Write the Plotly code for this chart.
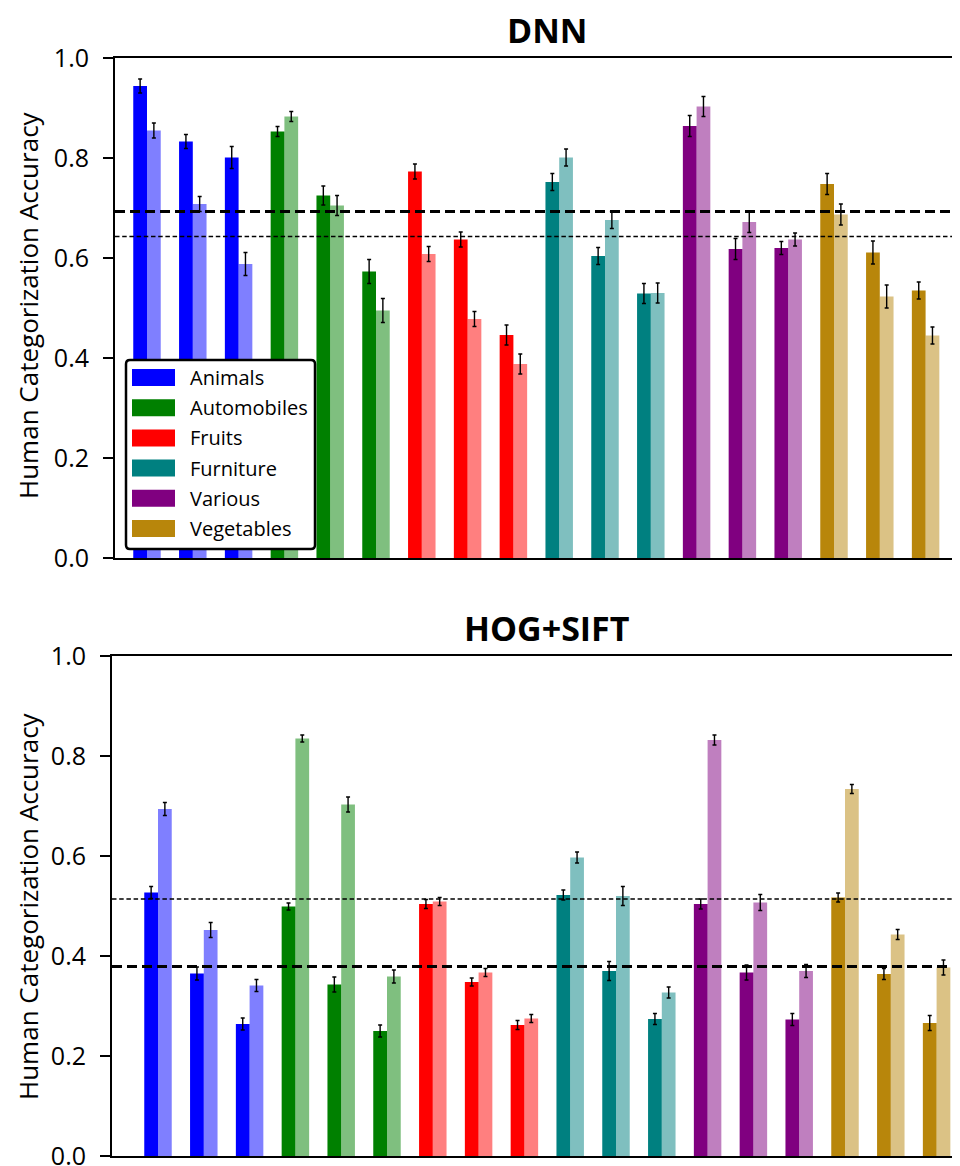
import plotly.graph_objects as go

# ---------------- data ----------------
categories = ["Animals", "Automobiles", "Fruits", "Furniture", "Various", "Vegetables"]
dark_colors = ["#0000FF", "#008000", "#FF0000", "#008080", "#800080", "#B8860B"]
light_colors = ["rgba(0,0,255,0.5)", "rgba(0,128,0,0.5)", "rgba(255,0,0,0.5)",
                "rgba(0,128,128,0.5)", "rgba(128,0,128,0.5)", "rgba(184,134,11,0.5)"]

# DNN panel: 3 levels per category, dark (first) and light (second) bars
dnn_dark = [[0.944, 0.833, 0.801], [0.853, 0.725, 0.573], [0.773, 0.637, 0.446],
            [0.752, 0.604, 0.529], [0.864, 0.618, 0.620], [0.748, 0.611, 0.535]]
dnn_dark_err = [[0.014, 0.014, 0.022], [0.010, 0.019, 0.024], [0.015, 0.015, 0.020],
                [0.017, 0.017, 0.020], [0.021, 0.021, 0.013], [0.021, 0.023, 0.017]]
dnn_light = [[0.855, 0.708, 0.588], [0.883, 0.705, 0.495], [0.608, 0.478, 0.388],
             [0.801, 0.676, 0.530], [0.903, 0.672, 0.637], [0.687, 0.523, 0.445]]
dnn_light_err = [[0.015, 0.015, 0.023], [0.010, 0.020, 0.024], [0.015, 0.015, 0.020],
                 [0.017, 0.017, 0.020], [0.020, 0.021, 0.013], [0.021, 0.023, 0.017]]
dnn_lines = [0.693, 0.643]   # thick, thin

# HOG+SIFT panel
hog_dark = [[0.527, 0.365, 0.264], [0.499, 0.343, 0.250], [0.504, 0.348, 0.262],
            [0.522, 0.370, 0.274], [0.504, 0.367, 0.273], [0.517, 0.364, 0.266]]
hog_dark_err = [[0.012, 0.013, 0.012], [0.007, 0.015, 0.012], [0.009, 0.008, 0.009],
                [0.010, 0.019, 0.011], [0.010, 0.015, 0.012], [0.009, 0.011, 0.015]]
hog_light = [[0.694, 0.452, 0.341], [0.835, 0.703, 0.359], [0.509, 0.367, 0.275],
             [0.597, 0.520, 0.327], [0.832, 0.507, 0.370], [0.734, 0.443, 0.377]]
hog_light_err = [[0.013, 0.015, 0.012], [0.007, 0.015, 0.013], [0.008, 0.008, 0.008],
                 [0.011, 0.019, 0.011], [0.010, 0.016, 0.013], [0.009, 0.010, 0.015]]
hog_lines = [0.379, 0.514]   # thick, thin

titles = ["DNN", "HOG+SIFT"]
y_label = "Human Categorization Accuracy"
tick_vals = [0.0, 0.2, 0.4, 0.6, 0.8, 1.0]

# ---------------- layout helpers ----------------
W, H = 960, 1166
OFF = 8  # default page body margin
FONT = "Open Sans"


def px(x):
    return (x - OFF) / W


def py(y):
    return 1 - (y - OFF) / H


BAR_W = 0.3
STEP = 45.8                    # pixels per group
RIGHT_EDGE = W + OFF           # page pixel of figure's right edge


def xrange_for(left_px, first_center_px):
    return [(left_px - first_center_px) / STEP, (RIGHT_EDGE - first_center_px) / STEP]


fig = go.Figure()

panels = [
    (dnn_dark, dnn_dark_err, dnn_light, dnn_light_err, "x", "y"),
    (hog_dark, hog_dark_err, hog_light, hog_light_err, "x2", "y2"),
]

for dark, dark_err, light, light_err, xa, ya in panels:
    for c, cat in enumerate(categories):
        xs = [3 * c + k for k in range(3)]
        fig.add_trace(go.Bar(
            x=[v - BAR_W / 2 for v in xs], y=dark[c], width=BAR_W,
            marker=dict(color=dark_colors[c], line=dict(width=0)),
            error_y=dict(type="data", array=dark_err[c], color="black",
                         thickness=1.4, width=2),
            xaxis=xa, yaxis=ya, showlegend=False, name=cat))
        fig.add_trace(go.Bar(
            x=[v + BAR_W / 2 for v in xs], y=light[c], width=BAR_W,
            marker=dict(color=light_colors[c], line=dict(width=0)),
            error_y=dict(type="data", array=light_err[c], color="black",
                         thickness=1.4, width=2),
            xaxis=xa, yaxis=ya, showlegend=False, name=cat))

# reference lines
shapes = []
for lines, xa, ya in [(dnn_lines, "x", "y"), (hog_lines, "x2", "y2")]:
    shapes.append(dict(type="line", xref=f"{xa} domain", yref=ya, x0=0, x1=1,
                       y0=lines[0], y1=lines[0],
                       line=dict(color="black", width=3, dash="10px,5px"), layer="above"))
    shapes.append(dict(type="line", xref=f"{xa} domain", yref=ya, x0=0, x1=1,
                       y0=lines[1], y1=lines[1],
                       line=dict(color="black", width=1.3, dash="4.5px,2.7px"), layer="above"))

# manual legend (box + patches + labels)
lx0, lx1, ly0, ly1, r = 126, 315, 360, 549, 4
rx, ry = r / W, r / H
X0, X1, Y0, Y1 = px(lx0), px(lx1), py(ly0), py(ly1)
path = (f"M {X0+rx},{Y0} L {X1-rx},{Y0} Q {X1},{Y0} {X1},{Y0-ry} "
        f"L {X1},{Y1+ry} Q {X1},{Y1} {X1-rx},{Y1} L {X0+rx},{Y1} "
        f"Q {X0},{Y1} {X0},{Y1+ry} L {X0},{Y0-ry} Q {X0},{Y0} {X0+rx},{Y0} Z")
shapes.append(dict(type="path", xref="paper", yref="paper", path=path,
                   fillcolor="white", line=dict(color="black", width=2.5), layer="above"))
annotations = []
for k, cat in enumerate(categories):
    top = 369 + 30.2 * k
    shapes.append(dict(type="rect", xref="paper", yref="paper",
                       x0=px(132), x1=px(175), y0=py(top), y1=py(top + 17),
                       fillcolor=dark_colors[k], line=dict(width=0), layer="above"))
    annotations.append(dict(x=px(188), y=py(top + 8.5), xref="paper", yref="paper",
                            text=cat, showarrow=False, xanchor="left", yanchor="middle",
                            font=dict(family=FONT, size=20, color="black")))

# titles and y-axis labels
for title, cy, ytitle_c in [(titles[0], 30, 305), (titles[1], 628, 906)]:
    annotations.append(dict(x=px(547), y=py(cy), xref="paper", yref="paper",
                            text=f"<b>{title}</b>", showarrow=False,
                            xanchor="center", yanchor="middle", borderpad=0,
                            font=dict(family=FONT, size=34, color="black")))
    annotations.append(dict(x=px(28), y=py(ytitle_c), xref="paper", yref="paper",
                            text=y_label, showarrow=False, textangle=-90,
                            xanchor="center", yanchor="middle",
                            font=dict(family=FONT, size=26, color="black")))

xcommon = dict(showline=True, linecolor="black", linewidth=2, mirror=True,
               showticklabels=False, ticks="", showgrid=False, zeroline=False)
ycommon = dict(range=[0, 1], showline=True, linecolor="black", linewidth=2, mirror=False,
               ticks="outside", ticklen=10, tickwidth=2, tickcolor="black",
               tickvals=tick_vals, tickformat=".1f", showgrid=False, zeroline=False,
               ticklabelstandoff=9,
               tickfont=dict(family=FONT, size=25, color="black"), automargin=False)

fig.update_layout(
    width=W, height=H,
    margin=dict(l=0, r=0, t=0, b=0),
    paper_bgcolor="white", plot_bgcolor="white",
    barmode="overlay", showlegend=False,
    xaxis=dict(domain=[px(115), 1], range=xrange_for(115, 147), anchor="y", **xcommon),
    yaxis=dict(domain=[py(558), py(58)], anchor="x", **ycommon),
    xaxis2=dict(domain=[px(112), 1], range=xrange_for(112, 158), anchor="y2", **xcommon),
    yaxis2=dict(domain=[py(1156), py(656)], anchor="x2", **ycommon),
    shapes=shapes, annotations=annotations,
    font=dict(family=FONT),
)

fig.write_html("out.html")
